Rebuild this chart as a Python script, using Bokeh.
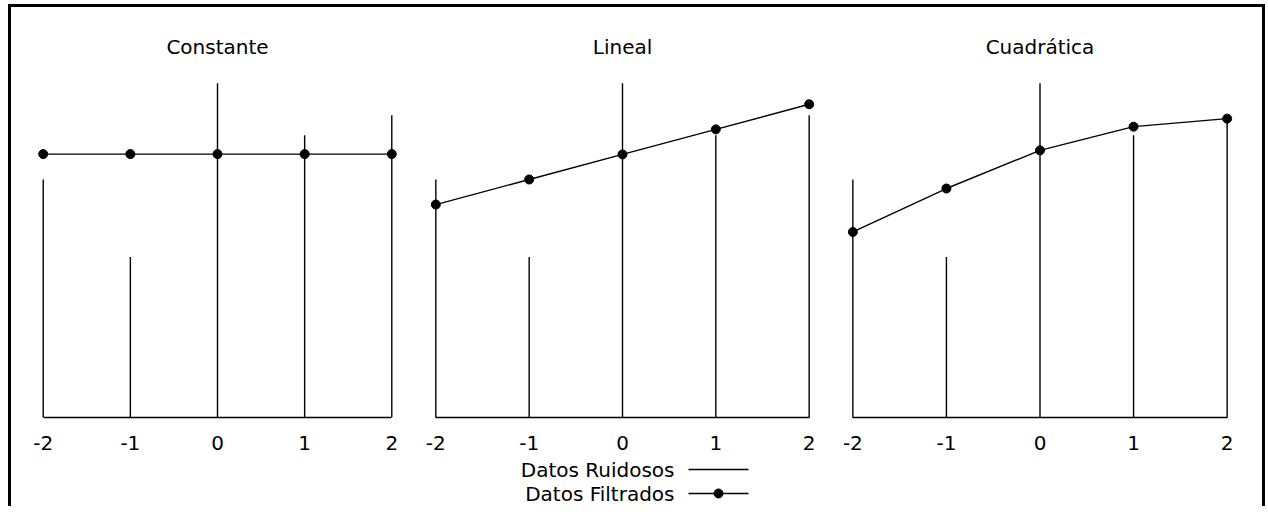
from bokeh.plotting import figure
from bokeh.layouts import row, column
from bokeh.models import Range1d, FixedTicker, ColumnDataSource
from bokeh.core.properties import value
from bokeh.embed import file_html
from bokeh.resources import INLINE

# ---- data ----
x_vals = [-2, -1, 0, 1, 2]
tick_labels = ["-2", "-1", "0", "1", "2"]
noisy = [0.712, 0.480, 1.000, 0.844, 0.904]
filt_const = [0.788, 0.788, 0.788, 0.788, 0.788]
filt_lin = [0.637, 0.712, 0.787, 0.862, 0.937]
filt_quad = [0.555, 0.685, 0.799, 0.870, 0.894]
titles = ["Constante", "Lineal", "Cuadrática"]
legend_labels = ["Datos Ruidosos", "Datos Filtrados"]

FONT = "DejaVu Sans"
FS = "20px"

filtered = [filt_const, filt_lin, filt_quad]
frame_w = [366, 392, 393]
border_l = [23, 13, 13]
border_r = [13, 12, 26]

panels = []
for i in range(3):
    p = figure(frame_width=frame_w[i], frame_height=351,
               x_range=Range1d(-2.1, 2.1), y_range=Range1d(0, 1.05),
               toolbar_location=None, output_backend="svg",
               y_axis_location=None,
               min_border_left=border_l[i], min_border_right=border_r[i],
               min_border_top=59, min_border_bottom=40)
    p.outline_line_color = None
    p.grid.visible = False
    p.background_fill_color = "white"
    p.border_fill_color = "white"

    p.title.text = titles[i]
    p.title.align = "center"
    p.title.text_font = FONT
    p.title.text_font_size = FS
    p.title.text_font_style = "normal"
    p.title.text_color = "black"
    p.title.standoff = 16

    src = ColumnDataSource(dict(x=x_vals, noisy=noisy, filt=filtered[i],
                                zero=[0] * len(x_vals)))
    p.segment(x0="x", y0="zero", x1="x", y1="noisy", source=src,
              line_color="black", line_width=1.4)
    p.line(x="x", y="filt", source=src, line_color="black", line_width=1.4)
    p.scatter(x="x", y="filt", source=src, marker="circle", size=9,
              fill_color="black", line_color="black")

    ax = p.xaxis[0]
    ax.ticker = FixedTicker(ticks=x_vals)
    ax.major_label_overrides = {v: t for v, t in zip(x_vals, tick_labels)}
    ax.bounds = (-2, 2)
    ax.axis_line_color = "black"
    ax.axis_line_width = 1.5
    ax.major_tick_line_color = None
    ax.minor_tick_line_color = None
    ax.major_tick_out = 0
    ax.major_tick_in = 0
    ax.major_label_standoff = 18
    ax.major_label_text_font = FONT
    ax.major_label_text_font_size = FS
    ax.major_label_text_color = "black"
    panels.append(p)

# ---- legend (label on the left, sample on the right) ----
LW = 1251
LH = 49
leg = figure(width=LW, height=LH, x_range=Range1d(0, LW), y_range=Range1d(0, LH),
             toolbar_location=None, output_backend="svg", min_border=0)
leg.axis.visible = False
leg.grid.visible = False
leg.outline_line_color = None
text_x = 663
sample_x0, sample_x1 = 677, 737
rows_y = [37, 13]
leg.text(x=[text_x, text_x], y=rows_y, text=legend_labels,
         text_align="right", text_baseline="middle",
         text_font=value(FONT), text_font_size=value(FS), text_color="black")
leg.segment(x0=[sample_x0, sample_x0], y0=rows_y, x1=[sample_x1, sample_x1], y1=rows_y,
            line_color="black", line_width=1.4)
leg.scatter(x=[(sample_x0 + sample_x1) / 2], y=[rows_y[1]], marker="circle", size=9,
            fill_color="black", line_color="black")

layout = column(row(*panels), leg,
                styles={"border-left": "3px solid black",
                        "border-top": "3px solid black",
                        "border-right": "3px solid black",
                        "margin-left": "8px",
                        "margin-top": "4px"})

open("out.html", "w").write(file_html(layout, INLINE))
